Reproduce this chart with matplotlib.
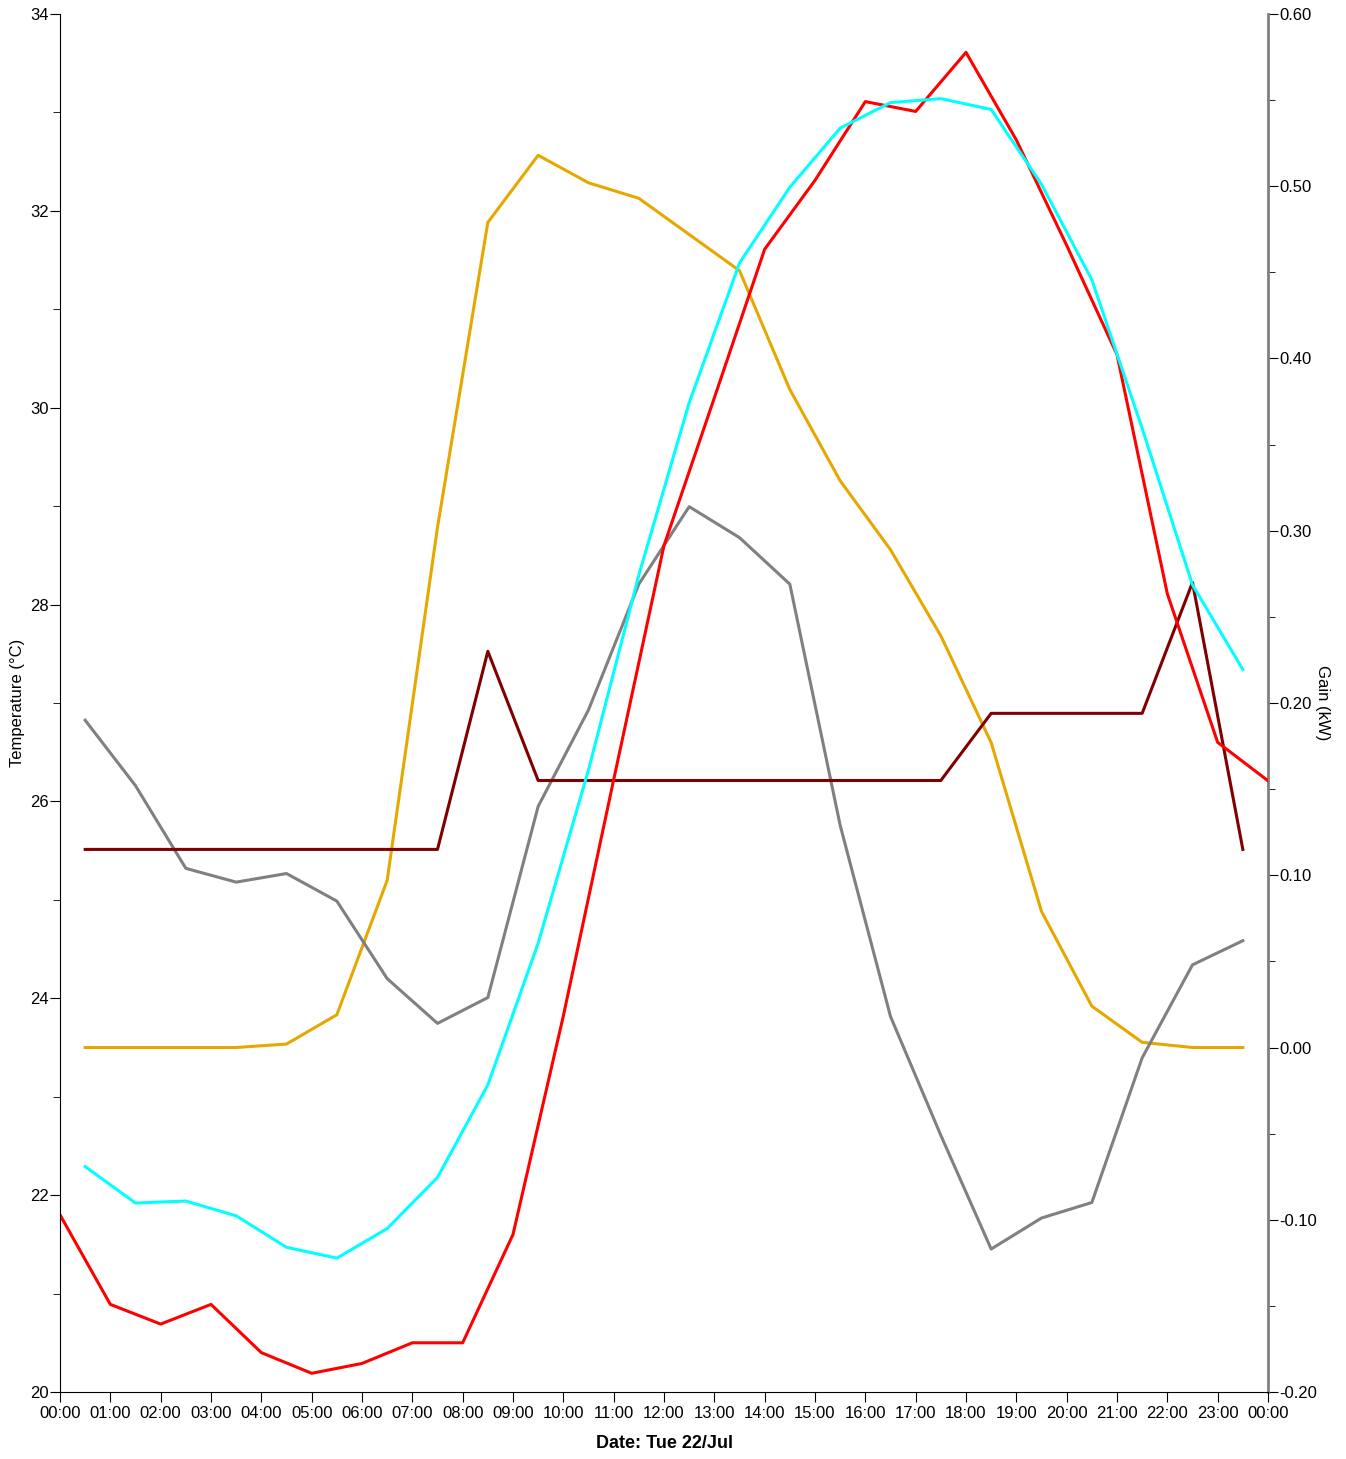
import numpy as np
import matplotlib
matplotlib.use("Agg")
import matplotlib.pyplot as plt

plt.rcParams['font.family'] = ['Liberation Sans Narrow', 'Liberation Sans', 'DejaVu Sans']

# hours of day
hours = list(range(25))
half_hours = [h + 0.5 for h in range(24)]
xlabels = ['%02d:00' % (h % 24) for h in range(25)]

# temperatures (left axis)
temp_red = [21.80, 20.89, 20.69, 20.89, 20.40, 20.19, 20.29, 20.50, 20.50, 21.60,
            23.82, 26.22, 28.60, 30.10, 31.61, 32.31, 33.11, 33.01, 33.61, 32.72,
            31.65, 30.54, 28.11, 26.60, 26.21]
temp_cyan = [22.29, 21.92, 21.94, 21.79, 21.47, 21.36, 21.66, 22.18, 23.12, 24.56,
             26.32, 28.30, 30.05, 31.47, 32.24, 32.84, 33.10, 33.14, 33.03, 32.27,
             31.30, 29.79, 28.20, 27.34]

# gains (right axis)
gain_orange = [0.0, 0.0, 0.0, 0.0, 0.002, 0.019, 0.097, 0.302, 0.479, 0.518,
               0.502, 0.493, 0.472, 0.451, 0.382, 0.329, 0.289, 0.239, 0.177, 0.079,
               0.024, 0.003, 0.0, 0.0]
gain_gray = [0.190, 0.152, 0.104, 0.096, 0.101, 0.085, 0.040, 0.014, 0.029, 0.140,
             0.196, 0.269, 0.314, 0.296, 0.269, 0.129, 0.018, -0.051, -0.117, -0.099,
             -0.090, -0.006, 0.048, 0.062]
gain_darkred = [0.115, 0.115, 0.115, 0.115, 0.115, 0.115, 0.115, 0.115, 0.230, 0.155,
                0.155, 0.155, 0.155, 0.155, 0.155, 0.155, 0.155, 0.155, 0.194, 0.194,
                0.194, 0.194, 0.270, 0.115]

fig = plt.figure(figsize=(13.46, 14.59), dpi=100)
ax1 = fig.add_axes([60/1346, 67/1459, 1208/1346, 1378/1459])
ax2 = ax1.twinx()
ax1.set_zorder(ax2.get_zorder() + 1)
ax1.patch.set_visible(False)

lw = 2.2
ax2.plot(half_hours, gain_orange, color='#E6A800', lw=lw)
ax2.plot(half_hours, gain_gray, color='#808080', lw=lw)
ax2.plot(half_hours, gain_darkred, color='#800000', lw=lw)
ax1.plot(hours, temp_red, color='#FF0000', lw=lw)
ax1.plot(half_hours, temp_cyan, color='#00FFFF', lw=lw)

ax1.set_xlim(0, 24)
ax1.set_ylim(20, 34)
ax2.set_ylim(-0.2, 0.6)

ax1.set_xticks(hours)
ax1.set_xticklabels(xlabels)
ax1.set_yticks(np.arange(20, 35, 2))
ax1.set_yticks(np.arange(21, 34, 2), minor=True)
ax2.set_yticks(np.arange(-0.2, 0.61, 0.1))
ax2.set_yticklabels(['%.2f' % v for v in np.arange(-0.2, 0.61, 0.1)])
ax2.set_yticks(np.arange(-0.15, 0.6, 0.1), minor=True)

ax1.tick_params(axis='x', length=7, labelsize=12, pad=3)
ax1.tick_params(axis='y', which='major', length=7, labelsize=12, pad=1)
ax1.tick_params(axis='y', which='minor', length=5)
ax2.tick_params(axis='y', which='major', length=7, labelsize=12, pad=1)
ax2.tick_params(axis='y', which='minor', length=5)

for ax in (ax1, ax2):
    ax.spines['top'].set_visible(False)
ax1.spines['right'].set_visible(False)
ax2.spines['left'].set_visible(False)
ax2.spines['bottom'].set_visible(False)
ax2.spines['right'].set_color('#808080')
ax2.spines['right'].set_linewidth(2)

ax1.set_xlabel('Date: Tue 22/Jul', fontsize=13, fontweight='bold', labelpad=10)
ax1.set_ylabel('Temperature (°C)', fontsize=12, labelpad=4)
ax2.set_ylabel('Gain (kW)', fontsize=12, rotation=270, va='center')
ax2.yaxis.set_label_coords(1.045, 0.5)

fig.savefig('out.png', dpi=100)
